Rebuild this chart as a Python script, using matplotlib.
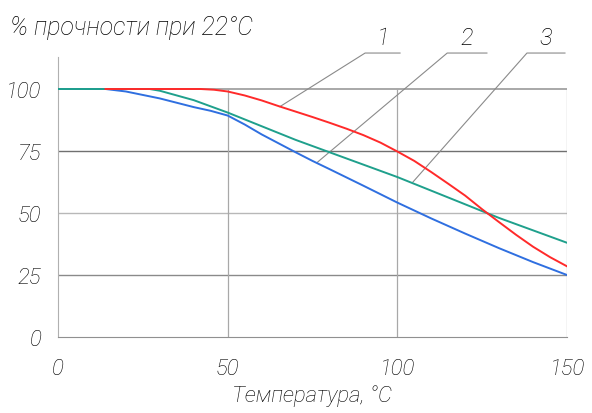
import matplotlib
matplotlib.use("Agg")
import matplotlib.pyplot as plt

# readings from the picture
temp_1 = [14, 42, 46, 50, 55, 60, 65, 70, 75, 80, 85, 90, 95, 100, 105, 110, 115, 120,
          125, 130, 135, 140, 145, 150]
strength_1 = [100, 100, 99.7, 99, 97.4, 95.4, 93.1, 90.9, 88.7, 86.4, 84, 81.4, 78.4, 74.8,
              71, 66.5, 61.8, 57, 51.5, 46.3, 41.2, 36.4, 32.2, 28.5]

temp_2 = [0, 14, 20, 30, 40, 45, 50, 55, 60, 70, 75, 80, 90, 100, 110, 120, 130, 140, 150]
strength_2 = [100, 100, 99, 96.2, 92.7, 91.2, 89.3, 85.7, 81.7, 74.5, 71, 67.7, 61, 54.2,
              47.8, 41.7, 35.8, 30.2, 25]

temp_3 = [0, 27, 30, 40, 50, 60, 70, 80, 90, 100, 110, 120, 130, 140, 150]
strength_3 = [100, 100, 99.3, 95.5, 90.5, 85, 79.5, 74.5, 69.5, 64.5, 59, 53.5, 48, 43, 38]

x_ticks = [0, 50, 100, 150]
y_ticks = [0, 25, 50, 75, 100]
curve_labels = ["1", "2", "3"]
# where each leader touches its curve, and the underline span above it
leader_ends = [(65.4, 92.9), (76.3, 70.3), (104.6, 62.5)]
label_spans = [(90.5, 100.8), (114.7, 126.4), (138.2, 149.4)]
label_height = 114.5

plt.rcParams["font.family"] = ["Roboto", "DejaVu Sans"]
plt.rcParams["font.style"] = "italic"
plt.rcParams["font.weight"] = "light"
plt.rcParams["axes.labelweight"] = "light"
ink = "#000000"

fig = plt.figure(figsize=(5.92, 4.14), dpi=100)
ax = fig.add_axes([58 / 592, 76 / 414, 509 / 592, 285.2 / 414])
ax.set_xlim(0, 150)
ax.set_ylim(0, 115)

# grid
grid_colors = {25: "#8a8a8a", 50: "#b8b8b8", 75: "#707070", 100: "#9a9a9a"}
for y in y_ticks[1:]:
    ax.plot([0, 150], [y, y], color=grid_colors[y], lw=1.2 if y == 100 else 1.0, zorder=1)
for x in x_ticks[1:]:
    ax.plot([x, x], [0, 100], color="#a8a8a8", lw=0.9, zorder=1)

for s in ["top", "right"]:
    ax.spines[s].set_visible(False)
ax.spines["left"].set_color("#b0b0b0")
ax.spines["bottom"].set_color("#909090")
ax.spines["left"].set_bounds(0, 113)
ax.tick_params(length=0, pad=12, labelsize=16, labelcolor=ink)
ax.set_xticks(x_ticks)
ax.set_yticks(y_ticks)
ax.tick_params(axis="x", pad=15)

ax.plot(temp_2, strength_2, color="#2f6fe0", lw=1.4, zorder=3)
ax.plot(temp_3, strength_3, color="#1fa08c", lw=1.4, zorder=3)
ax.plot(temp_1, strength_1, color="#ff2a2a", lw=1.4, zorder=4)

# leaders with numbered labels
for lab, end, span in zip(curve_labels, leader_ends, label_spans):
    ax.plot([end[0], span[0], span[1]], [end[1], label_height, label_height],
            color="#8a8a8a", lw=0.8, zorder=2, clip_on=False)
    ax.text((span[0] + span[1]) / 2, label_height + 1.5, lab, ha="center", va="bottom",
            fontsize=17, color=ink)

fig.text(10 / 592, 1 - 28 / 414, "% прочности при 22°C", fontsize=18, color=ink,
         va="center", ha="left")
ax.set_xlabel("Температура, °C", fontsize=16, color=ink, labelpad=4)

fig.savefig("out.png", dpi=100)
